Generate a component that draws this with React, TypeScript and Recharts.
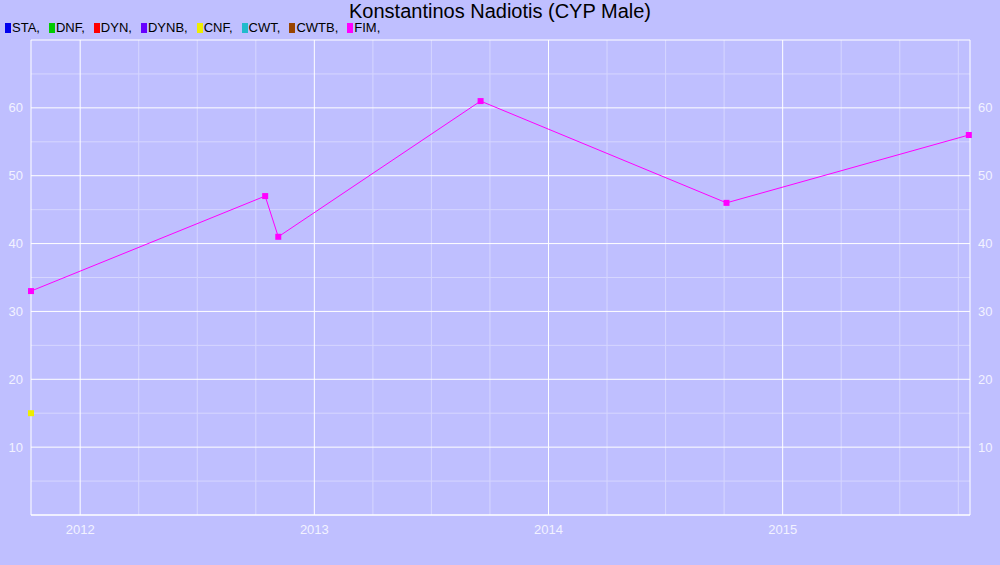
import React from "react";
import {
  CartesianGrid,
  Line,
  LineChart,
  XAxis,
  YAxis,
} from "recharts";

const title = "Konstantinos Nadiotis (CYP Male)";

const legendNames = ["STA", "DNF", "DYN", "DYNB", "CNF", "CWT", "CWTB", "FIM"];
const legendColors = ["#0000ee", "#00cc00", "#ff0000", "#6600ff", "#eeee00", "#22bbcc", "#994400", "#ff00ff"];

// dates as fractional years
const fimDates = [2011.79, 2012.79, 2012.846, 2013.71, 2014.76, 2015.795];
const fimValues = [33, 47, 41, 61, 46, 56];
const cnfDates = [2011.79];
const cnfValues = [15];

const yearTicks = [2012, 2013, 2014, 2015];
const quarterLines = [
  2012.25, 2012.5, 2012.75, 2013.25, 2013.5, 2013.75,
  2014.25, 2014.5, 2014.75, 2015.25, 2015.5, 2015.75,
];
const yTicks = [10, 20, 30, 40, 50, 60];
const yGridMajor = [0, 10, 20, 30, 40, 50, 60, 70];
const yMinor = [5, 15, 25, 35, 45, 55, 65];

const fimData = fimDates.map((d, i) => ({ date: d, FIM: fimValues[i] }));
const cnfData = cnfDates.map((d, i) => ({ date: d, CNF: cnfValues[i] }));

const SquareDot = (color: string) => (props: any) => {
  const { cx, cy, index } = props;
  if (cx == null || cy == null) return null;
  return <rect key={index} x={cx - 3} y={cy - 3} width={6} height={6} fill={color} />;
};

const tickStyle = { fill: "#f2f2ff", fontSize: 13, fontFamily: "Liberation Sans, Arial, sans-serif" };

export default function App() {
  return (
    <div
      style={{
        position: "fixed",
        left: 0,
        top: 0,
        width: 1000,
        height: 565,
        background: "#bfbfff",
        fontFamily: "Liberation Sans, Arial, sans-serif",
      }}
    >
      <div
        style={{
          position: "absolute",
          top: 0,
          width: 1000,
          textAlign: "center",
          fontSize: 20,
          color: "#000",
        }}
      >
        {title}
      </div>
      <div
        style={{
          position: "absolute",
          top: 20,
          left: 5,
          fontSize: 13,
          color: "#000",
          display: "flex",
          whiteSpace: "nowrap",
        }}
      >
        {legendNames.map((n, i) => (
          <span key={n} style={{ marginRight: 9, display: "flex", alignItems: "center" }}>
            <span style={{ display: "inline-block", width: 6, height: 10, background: legendColors[i], marginRight: 1 }} />
            {n},
          </span>
        ))}
      </div>
      <LineChart
        width={1000}
        height={565}
        margin={{ top: 40, right: 0, bottom: 0, left: 0 }}
        style={{ position: "absolute", left: 0, top: 0 }}
      >
        <CartesianGrid
          yAxisId="left"
          stroke="#d6d6ff"
          strokeWidth={1}
          horizontalValues={yMinor}
          verticalValues={quarterLines}
        />
        <CartesianGrid
          yAxisId="left"
          stroke="#ffffff"
          strokeWidth={1}
          horizontalValues={yGridMajor}
          verticalValues={yearTicks}
        />
        <XAxis
          type="number"
          dataKey="date"
          domain={[2011.79, 2015.8]}
          ticks={yearTicks}
          height={50}
          tickLine={false}
          axisLine={{ stroke: "#ffffff" }}
          tick={tickStyle}
          tickMargin={4}
        />
        <YAxis
          yAxisId="left"
          domain={[0, 70]}
          ticks={yTicks}
          width={31}
          tickLine={false}
          axisLine={{ stroke: "#ffffff" }}
          tick={tickStyle}
          tickMargin={2}
        />
        <YAxis
          yAxisId="right"
          orientation="right"
          domain={[0, 70]}
          ticks={yTicks}
          width={30}
          tickLine={false}
          axisLine={{ stroke: "#ffffff" }}
          tick={tickStyle}
          tickMargin={2}
        />
        <Line
          yAxisId="right"
          data={cnfData}
          dataKey="CNF"
          stroke="#eeee00"
          strokeWidth={1}
          dot={SquareDot("#eeee00")}
          isAnimationActive={false}
        />
        <Line
          yAxisId="left"
          data={fimData}
          dataKey="FIM"
          stroke="#ff00ff"
          strokeWidth={1}
          dot={SquareDot("#ff00ff")}
          isAnimationActive={false}
        />
      </LineChart>
    </div>
  );
}
